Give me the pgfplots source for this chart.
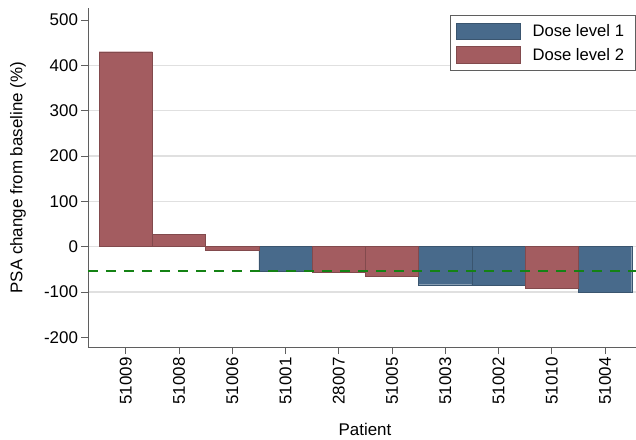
\documentclass[border=0pt]{standalone}
\usepackage{pgfplots}
\pgfplotsset{compat=1.18}
\usepackage{fontspec}
\setmainfont{Liberation Sans}
\definecolor{dose1}{RGB}{72,106,139}
\definecolor{dose2}{RGB}{163,92,96}
\definecolor{gridc}{RGB}{224,224,224}
\definecolor{axc}{RGB}{95,95,95}
\definecolor{thr}{RGB}{20,130,20}
\begin{document}
\begin{tikzpicture}[x=1bp,y=1bp]
\begin{axis}[
  at={(0,0)}, anchor=south west,
  scale only axis, width=548bp, height=339.5bp,
  xmin=-0.708, xmax=9.58, ymin=-222.5, ymax=526.5,
  axis x line*=bottom, axis y line*=left,
  axis line style={axc, line width=0.8bp},
  tick style={axc, line width=0.8bp},
  tick align=outside, major tick length=6.5bp,
  ytick={-100,0,...,400},
  extra y ticks={-200,500},
  extra y tick style={grid=none},
  ymajorgrids=true,
  grid style={gridc, line width=1.2bp},
  xtick={0,...,9},
  xticklabels={51009,51008,51006,51001,28007,51005,51003,51002,51010,51004},
  /pgf/number format/assume math mode=true,
  tick label style={font=\fontsize{17}{20}\selectfont},
  xticklabel style={rotate=90, anchor=east},
  label style={font=\fontsize{17}{20}\selectfont},
  ylabel={PSA change from baseline (\%)},
  ylabel style={at={(axis description cs:0,0.5)}, anchor=north, inner sep=0pt, yshift=78.2bp},
  xlabel={Patient},
  xlabel style={at={(axis description cs:0.5,0)}, anchor=base, inner sep=0pt, yshift=-87.5bp, xshift=3bp},
  ybar, bar width=1, bar shift=0pt,
  legend cell align=left,
  legend style={at={(1,1)}, anchor=north east, xshift=-0.5bp, yshift=-7bp,
    draw=axc, line width=0.8bp, font=\fontsize{16.7}{20}\selectfont,
    inner xsep=6bp, inner ysep=6bp, row sep=4bp,
    nodes={inner xsep=5bp, inner ysep=3bp}},
]
\addplot[fill=dose1, draw=dose1!80!black, line width=0.4bp,
  legend image code/.code={\path[fill=dose1] (0bp,-8.3bp) rectangle (64bp,8.3bp);}]
  coordinates {(3,-54) (6,-84) (7,-84.5) (9,-100)};
\addlegendentry{\hspace{7bp}Dose level 1\hspace{9bp}}
\addplot[fill=dose2, draw=dose2!80!black, line width=0.4bp,
  legend image code/.code={\path[fill=dose2] (0bp,-8.3bp) rectangle (64bp,8.3bp);}]
  coordinates {(0,430) (1,27) (2,-7.5) (4,-56) (5,-65) (8,-91)};
\addlegendentry{\hspace{7bp}Dose level 2\hspace{9bp}}
\addplot[sharp plot, thr, line width=2.2bp, dash pattern=on 10bp off 8bp, forget plot]
  coordinates {(-0.708,-53) (9.58,-53)};
\end{axis}
\pgfresetboundingbox
\path[use as bounding box] (-88bp,-92.5bp) rectangle (548bp,347.5bp);
\end{tikzpicture}
\end{document}
